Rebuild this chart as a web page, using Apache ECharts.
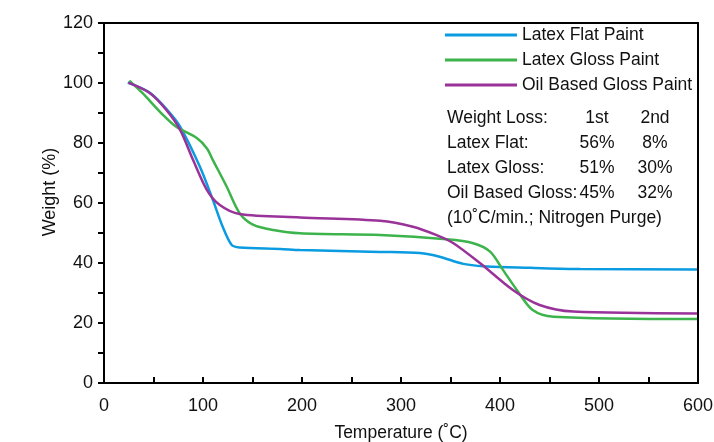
<!DOCTYPE html>
<html><head><meta charset="utf-8">
<script src="https://cdn.jsdelivr.net/npm/echarts@6/dist/echarts.min.js"></script>
<style>html,body{margin:0;padding:0;background:#fff}#c{width:714px;height:442px}</style>
</head><body><div id="c"></div>
<script>
const seriesNames = ['Latex Flat Paint', 'Latex Gloss Paint', 'Oil Based Gloss Paint'];
const latexFlat = [[24,100.1],[46,96.8],[64,91],[77,85.4],[97,72],[110,61],[120,52],[129,46],[137,45.2],[178,44.7],[198,44.3],[279,43.7],[319,43.3],[339,42.1],[363,39.7],[387,38.8],[430,38.4],[481,38],[599,37.8]];
const latexGloss = [[25.6,100.8],[39,96.6],[58,89.9],[73,85.4],[94,81.6],[104,78.2],[110,74.3],[124,65.4],[137,56.6],[151,52.7],[171,51],[198,49.9],[279,49.3],[346,47.9],[373,46.6],[390,43.8],[403,37.7],[417,31],[433,24.3],[454,22.1],[599,21.3]];
const oilGloss = [[24.6,100.1],[46.5,96.6],[63,91],[77,84.3],[90,74.3],[104,64.3],[117,59.3],[137,56.3],[198,55.2],[279,54.1],[312,52.1],[336,49.3],[353,46.6],[380,39.9],[413,31],[440,26],[474,23.8],[599,23.2]];
const tableRows = [
  ['Weight Loss:', '1st', '2nd'],
  ['Latex Flat:', '56%', '8%'],
  ['Latex Gloss:', '51%', '30%'],
  ['Oil Based Gloss:', '45%', '32%']
];
const note = '(10˚C/min.; Nitrogen Purge)';
const colors = ['#0b9be0', '#3cb44b', '#993399'];
const FONT = "'Liberation Sans', Arial, sans-serif";
const FS = 17.5;

const chart = echarts.init(document.getElementById('c'));
const graphics = [];
const rowY = [118, 143, 168, 193];
function txt(x, y, s, align) {
  return {type:'text', x:x, y:y, style:{text:s, fontSize:FS, fontFamily:FONT, fill:'#111', align:align, verticalAlign:'middle'}};
}
tableRows.forEach((r, i) => {
  graphics.push(txt(447, rowY[i], r[0], 'left'));
  graphics.push(txt(597, rowY[i], r[1], 'center'));
  graphics.push(txt(655, rowY[i], r[2], 'center'));
});
graphics.push(txt(447, 218, note, 'left'));

chart.setOption({
  animation:false,
  color: colors,
  grid:{left:104, right:16, top:23, bottom:59, containLabel:false, outerBoundsMode:'none', show:true, borderColor:'#000', borderWidth:2},
  legend:{orient:'vertical', left:445, top:26, padding:0, itemWidth:72, itemHeight:3, itemGap:7, icon:'rect',
    textStyle:{fontFamily:FONT, fontSize:FS, lineHeight:17, color:'#111'},
    data: seriesNames},
  xAxis:{type:'value', min:0, max:600, interval:100,
    name:'Temperature (˚C)', nameLocation:'middle', nameGap:41,
    nameTextStyle:{fontFamily:FONT, fontSize:FS, color:'#111'},
    axisLine:{lineStyle:{color:'#000', width:2}},
    axisTick:{inside:true, length:6, lineStyle:{color:'#000', width:2}},
    minorTick:{show:true, splitNumber:2, length:6, lineStyle:{color:'#000', width:2}},
    splitLine:{show:false},
    axisLabel:{fontFamily:FONT, fontSize:18, color:'#111', margin:14}},
  yAxis:{type:'value', min:0, max:120, interval:20,
    name:'Weight (%)', nameLocation:'middle', nameGap:45, nameMoveOverlap:false,
    nameTextStyle:{fontFamily:FONT, fontSize:18, color:'#111', padding:[0,0,0,22]},
    axisLine:{show:true, lineStyle:{color:'#000', width:2}},
    axisTick:{show:true, inside:false, length:6, lineStyle:{color:'#000', width:2}},
    minorTick:{show:true, splitNumber:2, length:6, lineStyle:{color:'#000', width:2}},
    splitLine:{show:false},
    axisLabel:{fontFamily:FONT, fontSize:18, color:'#111', margin:11}},
  graphic: graphics,
  series:[
    {name:seriesNames[0], type:'line', data:latexFlat, smooth:0.3, showSymbol:false, lineStyle:{width:2.5}},
    {name:seriesNames[1], type:'line', data:latexGloss, smooth:0.3, showSymbol:false, lineStyle:{width:2.5}},
    {name:seriesNames[2], type:'line', data:oilGloss, smooth:0.3, showSymbol:false, lineStyle:{width:2.5}}
  ]
});
</script></body></html>
